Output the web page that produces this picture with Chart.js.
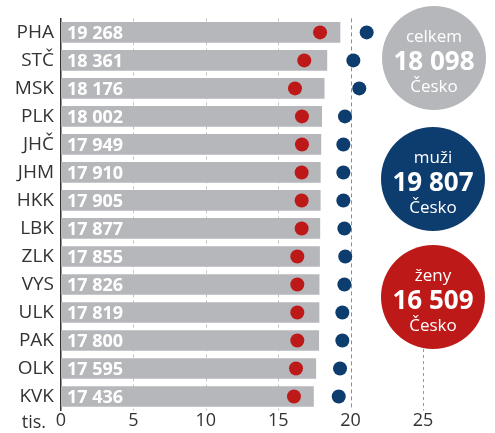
<!DOCTYPE html>
<html>
<head>
<meta charset="utf-8">
<script src="https://cdn.jsdelivr.net/npm/chart.js@4"></script>
<style>
    body { margin: 0; background: #fff; }
    .wrap { position: relative; width: 495px; height: 433px; }
    .badge {
        position: absolute; width: 104px; height: 104px; border-radius: 50%;
        display: flex; flex-direction: column; align-items: center; justify-content: center;
        color: #fff; font-family: "Open Sans", sans-serif; padding-top: 4px; box-sizing: border-box;
    }
    .badge span { display: block; line-height: 25px; font-size: 17px; }
    .badge b { display: block; line-height: 25px; font-size: 26px; font-weight: 700; }
</style>
</head>
<body>
<div class="wrap">
    <canvas id="chart" width="495" height="433"></canvas>
    <div class="badge" style="left:382px;top:6px;background:#b6b7bb"><span>celkem</span><b>18 098</b><span>Česko</span></div>
    <div class="badge" style="left:381px;top:127px;background:#0d3c6e"><span>muži</span><b>19 807</b><span>Česko</span></div>
    <div class="badge" style="left:381px;top:245px;background:#be1919"><span>ženy</span><b>16 509</b><span>Česko</span></div>
</div>
<script>
const regions = ["PHA", "STČ", "MSK", "PLK", "JHČ", "JHM", "HKK", "LBK", "ZLK", "VYS", "ULK", "PAK", "OLK", "KVK"];
const celkem = [19268, 18361, 18176, 18002, 17949, 17910, 17905, 17877, 17855, 17826, 17819, 17800, 17595, 17436];
const zeny = [17.89, 16.80, 16.16, 16.64, 16.64, 16.62, 16.62, 16.62, 16.32, 16.32, 16.32, 16.32, 16.23, 16.09];
const muzi = [21.11, 20.19, 20.60, 19.61, 19.50, 19.50, 19.50, 19.57, 19.63, 19.57, 19.43, 19.43, 19.27, 19.18];
const xTicks = [0, 5, 10, 15, 20, 25];

const GRAY = "#b6b7bb", BLUE = "#0d3c6e", RED = "#be1919", TEXT = "#333";

const fmt = v => String(v).replace(/\B(?=(\d{3})+(?!\d))/g, " ");

// dashed vertical grid, drawn under the bars
const gridLines = {
    id: "gridLines",
    beforeDatasetsDraw(chart) {
        const { ctx, chartArea, scales: { x } } = chart;
        ctx.save();
        ctx.lineWidth = 1;
        xTicks.forEach(t => {
            if (t === 0) return;
            const px = Math.round(x.getPixelForValue(t)) + 0.5;
            let top = chartArea.top;
            ctx.strokeStyle = "#c4c4c4";
            ctx.setLineDash([3, 3]);
            if (t === 20) { ctx.strokeStyle = "#8e8e8e"; ctx.setLineDash([4, 3]); }
            if (t === 25) { ctx.strokeStyle = "#9a9a9a"; top = 343; }
            ctx.beginPath();
            ctx.moveTo(px, top);
            ctx.lineTo(px, chartArea.bottom);
            ctx.stroke();
        });
        ctx.restore();
    }
};

// value labels inside the bars + "tis." unit
const barLabels = {
    id: "barLabels",
    afterDatasetsDraw(chart) {
        const { ctx, chartArea, scales: { x } } = chart;
        const meta = chart.getDatasetMeta(0);
        ctx.save();
        ctx.fillStyle = "#fff";
        ctx.font = "bold 18px 'Open Sans', sans-serif";
        ctx.textBaseline = "middle";
        ctx.textAlign = "left";
        meta.data.forEach((bar, i) => {
            ctx.fillText(fmt(celkem[i]), x.getPixelForValue(0) + 6, bar.y + 1);
        });
        ctx.fillStyle = TEXT;
        ctx.font = "18px 'Open Sans', sans-serif";
        ctx.textAlign = "right";
        ctx.fillText("tis.", 46, chartArea.bottom + 12);
        ctx.restore();
    }
};

new Chart(document.getElementById("chart").getContext("2d"), {
    type: "bar",
    data: {
        labels: regions,
        datasets: [
            {
                label: "celkem",
                data: celkem.map(v => v / 1000),
                backgroundColor: GRAY,
                barThickness: 20,
                order: 3
            },
            {
                type: "line",
                label: "ženy",
                data: zeny,
                showLine: false,
                pointRadius: 7,
                pointBackgroundColor: RED,
                pointBorderWidth: 0,
                order: 1
            },
            {
                type: "line",
                label: "muži",
                data: muzi,
                showLine: false,
                pointRadius: 7,
                pointBackgroundColor: BLUE,
                pointBorderWidth: 0,
                order: 1
            }
        ]
    },
    options: {
        indexAxis: "y",
        responsive: false,
        animation: false,
        layout: { padding: { top: 5.5, right: 72, bottom: 0, left: 0 } },
        plugins: { legend: { display: false }, tooltip: { enabled: false } },
        scales: {
            x: {
                min: 0,
                max: 25,
                afterBuildTicks: s => { s.ticks = xTicks.map(v => ({ value: v })); },
                afterFit: s => { s.height = 22.5; },
                grid: { display: false, drawTicks: false },
                border: { display: false },
                ticks: { color: TEXT, padding: 0, font: { family: "Open Sans", size: 18 } }
            },
            y: {
                afterFit: s => { s.width = 61; },
                grid: { display: false, drawTicks: false },
                border: { display: true, color: "#333", width: 1.5 },
                ticks: { color: TEXT, padding: 7, font: { family: "Open Sans", size: 19 } }
            }
        }
    },
    plugins: [gridLines, barLabels]
});
</script>
</body>
</html>
